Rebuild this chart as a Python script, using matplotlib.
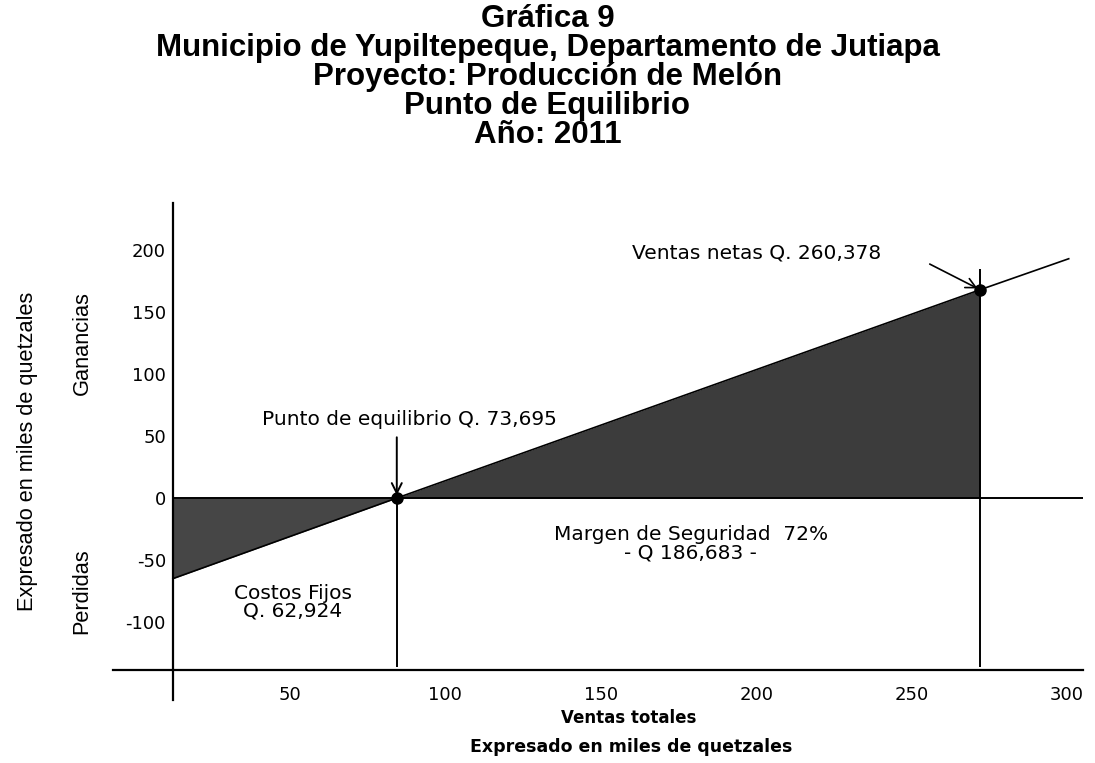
import numpy as np
import matplotlib
matplotlib.use('Agg')
import matplotlib.pyplot as plt

# datos (miles de quetzales)
ventas = [12.4, 84.4, 272.0, 300.5]
resultado = [-65.0, 0.0, 168.0, 193.0]
punto_eq = 84.4
ventas_netas = 272.0
x_ticks = [50, 100, 150, 200, 250, 300]
y_ticks = [-100, -50, 0, 50, 100, 150, 200]

titulo = ['Gráfica 9',
          'Municipio de Yupiltepeque, Departamento de Jutiapa',
          'Proyecto: Producción de Melón',
          'Punto de Equilibrio',
          'Año: 2011']

plt.rcParams['axes.unicode_minus'] = False
W, H = 1095, 763
fig = plt.figure(figsize=(W / 100.0, H / 100.0), dpi=100)
ax = fig.add_axes([0.0943, 0.0710, 0.903, 0.6744])
ax.set_xlim(-10, 308)
ax.set_ylim(-170, 245)

# ejes
for s in ['top', 'right']:
    ax.spines[s].set_visible(False)
ax.spines['left'].set_position(('data', ventas[0]))
ax.spines['left'].set_bounds(-163, 238)
ax.spines['bottom'].set_position(('data', -139))
ax.spines['bottom'].set_bounds(-7, 305)
ax.spines['left'].set_linewidth(1.6)
ax.spines['bottom'].set_linewidth(1.6)
ax.hlines(0, ventas[0], 305, color='black', lw=1.4)

ax.set_xticks(x_ticks)
ax.set_yticks(y_ticks)
ax.tick_params(length=0, labelsize=13)
ax.tick_params(axis='x', pad=11)
ax.tick_params(axis='y', pad=5)

x = np.array(ventas)
y = np.array(resultado)
ax.fill_between(x[:2], y[:2], 0, color='#464646', lw=0)
ax.fill_between(x[1:3], 0, y[1:3], color='#3c3c3c', lw=0)
ax.plot(x, y, color='black', lw=1.2)

# lineas verticales y flechas
ax.vlines(punto_eq, -136, 0, color='black', lw=1.4)
ax.vlines(ventas_netas, -136, 185, color='black', lw=1.4)
ax.annotate('', xy=(punto_eq, 0), xytext=(punto_eq, 49),
            arrowprops=dict(arrowstyle='->', lw=1.4, color='black',
                            mutation_scale=18, shrinkA=0, shrinkB=2))
ax.annotate('', xy=(ventas_netas, resultado[2]), xytext=(255.8, 188.7),
            arrowprops=dict(arrowstyle='->', lw=1.2, color='black',
                            mutation_scale=18, shrinkA=0, shrinkB=2))
ax.plot([punto_eq, ventas_netas], [0, resultado[2]], 'o', color='black', ms=8)

fs = 14.5
ax.text(88.6, 63, 'Punto de equilibrio Q. 73,695', ha='center', va='center', fontsize=fs)
ax.text(200, 197.6, 'Ventas netas Q. 260,378', ha='center', va='center', fontsize=fs)
ax.text(179, -37, 'Margen de Seguridad  72%\n- Q 186,683 -', ha='center',
        va='center', fontsize=fs, linespacing=0.95)
ax.text(51, -84, 'Costos Fijos\nQ. 62,924', ha='center', va='center',
        fontsize=fs, linespacing=0.95)

# titulo
tfont = dict(family='Liberation Sans', weight='bold', fontsize=22.5)
for i, t in enumerate(titulo):
    fig.text(0.5, 1 - (19 + 29 * i) / H, t, ha='center', va='center', **tfont)

# etiquetas
lfont = dict(family='Liberation Sans', fontsize=15.7)
fig.text(28 / W, 1 - 451 / H, 'Expresado en miles de quetzales', rotation=90,
         ha='center', va='center', **lfont)
fig.text(82 / W, 1 - 343 / H, 'Ganancias', rotation=90, ha='center', va='center', **lfont)
fig.text(82 / W, 1 - 591 / H, 'Perdidas', rotation=90, ha='center', va='center', **lfont)
fig.text(629 / W, 1 - 718 / H, 'Ventas totales', ha='center', va='center',
         fontsize=12, weight='bold')
fig.text(631 / W, 1 - 747 / H, 'Expresado en miles de quetzales', ha='center',
         va='center', fontsize=12.5, weight='bold')

fig.savefig('out.png', dpi=100)
